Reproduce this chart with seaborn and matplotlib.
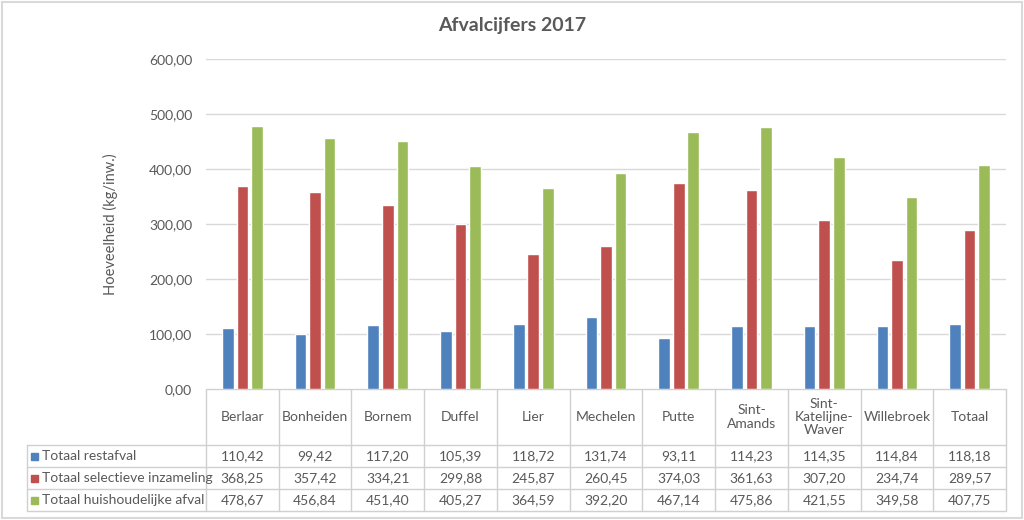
import pandas as pd
import seaborn as sns
import matplotlib.pyplot as plt
from matplotlib.ticker import FuncFormatter
from matplotlib.patches import Rectangle

sns.set_style("white")
plt.rcParams['font.family'] = ['Lato', 'DejaVu Sans']

gemeenten = ['Berlaar', 'Bonheiden', 'Bornem', 'Duffel', 'Lier', 'Mechelen', 'Putte',
             'Sint-\nAmands', 'Sint-\nKatelijne-\nWaver', 'Willebroek', 'Totaal']
series = ['Totaal restafval', 'Totaal selectieve inzameling', 'Totaal huishoudelijke afval']
restafval = [110.42, 99.42, 117.20, 105.39, 118.72, 131.74, 93.11, 114.23, 114.35, 114.84, 118.18]
selectief = [368.25, 357.42, 334.21, 299.88, 245.87, 260.45, 374.03, 361.63, 307.20, 234.74, 289.57]
huishoudelijk = [478.67, 456.84, 451.40, 405.27, 364.59, 392.20, 467.14, 475.86, 421.55, 349.58, 407.75]
colors = ['#4F81BD', '#C0504D', '#9BBB59']

rows = []
for name, vals in zip(series, [restafval, selectief, huishoudelijk]):
    for g, v in zip(gemeenten, vals):
        rows.append({'gemeente': g, 'reeks': name, 'waarde': v})
df = pd.DataFrame(rows)

W, H = 1024, 520
fig = plt.figure(figsize=(W / 100, H / 100), dpi=100)
left, right, top, bottom = 206, 1006, 59, 389
ax = fig.add_axes([left / W, 1 - bottom / H, (right - left) / W, (bottom - top) / H])

sns.barplot(data=df, x='gemeente', y='waarde', hue='reeks', palette=colors,
            width=0.6, gap=0.2, legend=False, ax=ax, saturation=1)
ax.set_ylim(0, 600)
ax.set_xlim(-0.5, len(gemeenten) - 0.5)
ax.set_yticks(range(0, 601, 100))
ax.yaxis.set_major_formatter(FuncFormatter(lambda v, p: f'{v:.2f}'.replace('.', ',')))
ax.tick_params(axis='y', labelsize=10, labelcolor='#595959', length=0, pad=10)
ax.set_xticks([])
ax.set_xlabel('')
ax.set_ylabel('Hoeveelheid (kg/inw.)', fontsize=10.5, color='#595959', labelpad=22)
ax.yaxis.grid(True, color='#D9D9D9', linewidth=1)
ax.set_axisbelow(True)
for s in ax.spines.values():
    s.set_visible(False)

fig.text(0.5, 1 - 25 / H, 'Afvalcijfers 2017', ha='center', va='center',
         fontsize=14, fontweight='bold', color='#595959')

# data table below the plot
ov = fig.add_axes([0, 0, 1, 1], zorder=-1)
ov.set_xlim(0, W)
ov.set_ylim(H, 0)
ov.axis('off')
lc = '#D0D0D0'
row_y = [389, 445, 467, 489, 511]
tab_left = 27
colw = (right - left) / len(gemeenten)
for i in range(len(gemeenten) + 1):
    ov.plot([left + i * colw] * 2, [row_y[0], row_y[-1]], color=lc, lw=1)
ov.plot([left, right], [row_y[0]] * 2, color=lc, lw=1)
for y in row_y[1:]:
    ov.plot([tab_left, right], [y, y], color=lc, lw=1)
ov.plot([tab_left, tab_left], [row_y[1], row_y[-1]], color=lc, lw=1)

for i, g in enumerate(gemeenten):
    ov.text(left + (i + 0.5) * colw, (row_y[0] + row_y[1]) / 2, g, ha='center', va='center',
            fontsize=10, color='#595959', linespacing=1.15, multialignment='center')

for r, (name, vals, c) in enumerate(zip(series, [restafval, selectief, huishoudelijk], colors)):
    yc = (row_y[r + 1] + row_y[r + 2]) / 2
    ov.add_patch(Rectangle((tab_left + 4, yc - 3.5), 7, 7, color=c))
    ov.text(tab_left + 15, yc, name, ha='left', va='center', fontsize=10, color='#595959')
    for i, v in enumerate(vals):
        ov.text(left + (i + 0.5) * colw, yc, f'{v:.2f}'.replace('.', ','), ha='center',
                va='center', fontsize=10, color='#595959')

# chart border
ov.add_patch(Rectangle((1.5, 1.5), W - 4, H - 4, fill=False, edgecolor='#D9D9D9', lw=1.5))

fig.savefig('out.png', dpi=100)
